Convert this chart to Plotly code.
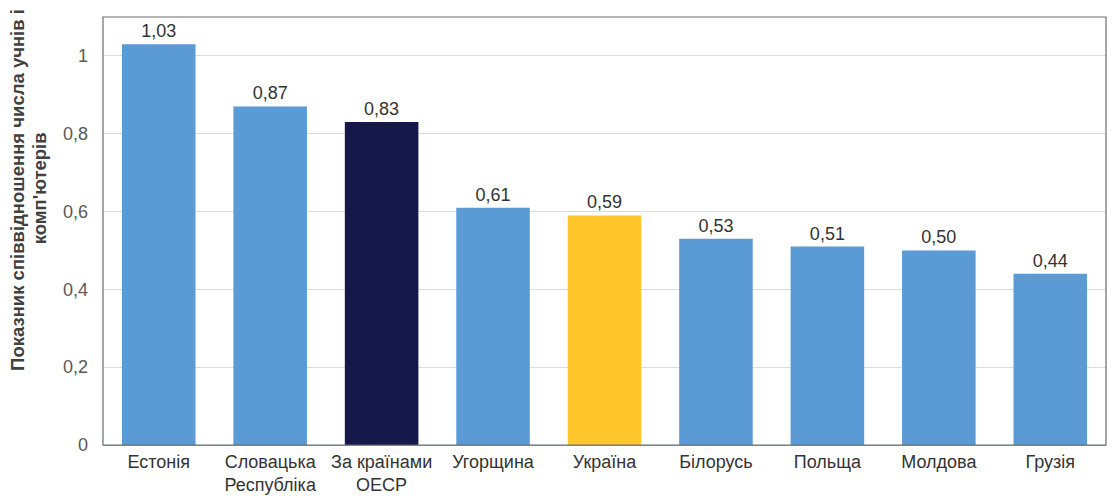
import plotly.graph_objects as go

categories = ["Естонія", "Словацька<br>Республіка", "За країнами<br>ОЕСР", "Угорщина",
              "Україна", "Білорусь", "Польща", "Молдова", "Грузія"]
values = [1.03, 0.87, 0.83, 0.61, 0.59, 0.53, 0.51, 0.50, 0.44]
colors = ["#5b9bd5", "#5b9bd5", "#16184a", "#5b9bd5", "#ffc72c",
          "#5b9bd5", "#5b9bd5", "#5b9bd5", "#5b9bd5"]
y_title_1 = "Показник співвідношення числа учнів і"
y_title_2 = "комп'ютерів"

FONT = "Liberation Sans, Arial, sans-serif"

fig = go.Figure(go.Bar(
    x=categories, y=values, marker=dict(color=colors, line=dict(width=0)),
    texttemplate="%{y:.2f}", textposition="outside", cliponaxis=False,
    textfont=dict(size=18, color="#333333"),
))

title_font = dict(size=18.5, color="#404040", family=FONT, weight="bold")

fig.update_layout(
    width=1108, height=490,
    margin=dict(l=95, r=10, t=9, b=53, autoexpand=False),
    paper_bgcolor="white", plot_bgcolor="white",
    separators=", ",
    bargap=0.34,
    font=dict(family=FONT, color="#404040"),
    showlegend=False,
    xaxis=dict(tickfont=dict(size=18, color="#333333"), showline=True,
               linecolor="#8db255", linewidth=1, mirror=False, ticks="",
               showgrid=False, automargin=False),
    yaxis=dict(range=[0, 1.100], tickvals=[0, 0.2, 0.4, 0.6, 0.8, 1],
               tickfont=dict(size=18, color="#595959"),
               showgrid=True, gridcolor="#dcdcdc", gridwidth=1,
               zeroline=False, ticks="", ticklabelstandoff=14,
               showline=False, automargin=False),
    shapes=[dict(type="rect", xref="paper", yref="paper", x0=0, x1=1, y0=0, y1=1,
                 line=dict(color="#6b6b6b", width=1.2), layer="above")],
    annotations=[
        dict(text=y_title_1, textangle=-90, xref="paper", yref="paper",
             x=0, xshift=-85, y=0.596, xanchor="center", yanchor="middle",
             showarrow=False, font=title_font),
        dict(text=y_title_2, textangle=-90, xref="paper", yref="paper",
             x=0, xshift=-64, y=0.600, xanchor="center", yanchor="middle",
             showarrow=False, font=title_font),
    ],
)

fig.write_html("out.html")
